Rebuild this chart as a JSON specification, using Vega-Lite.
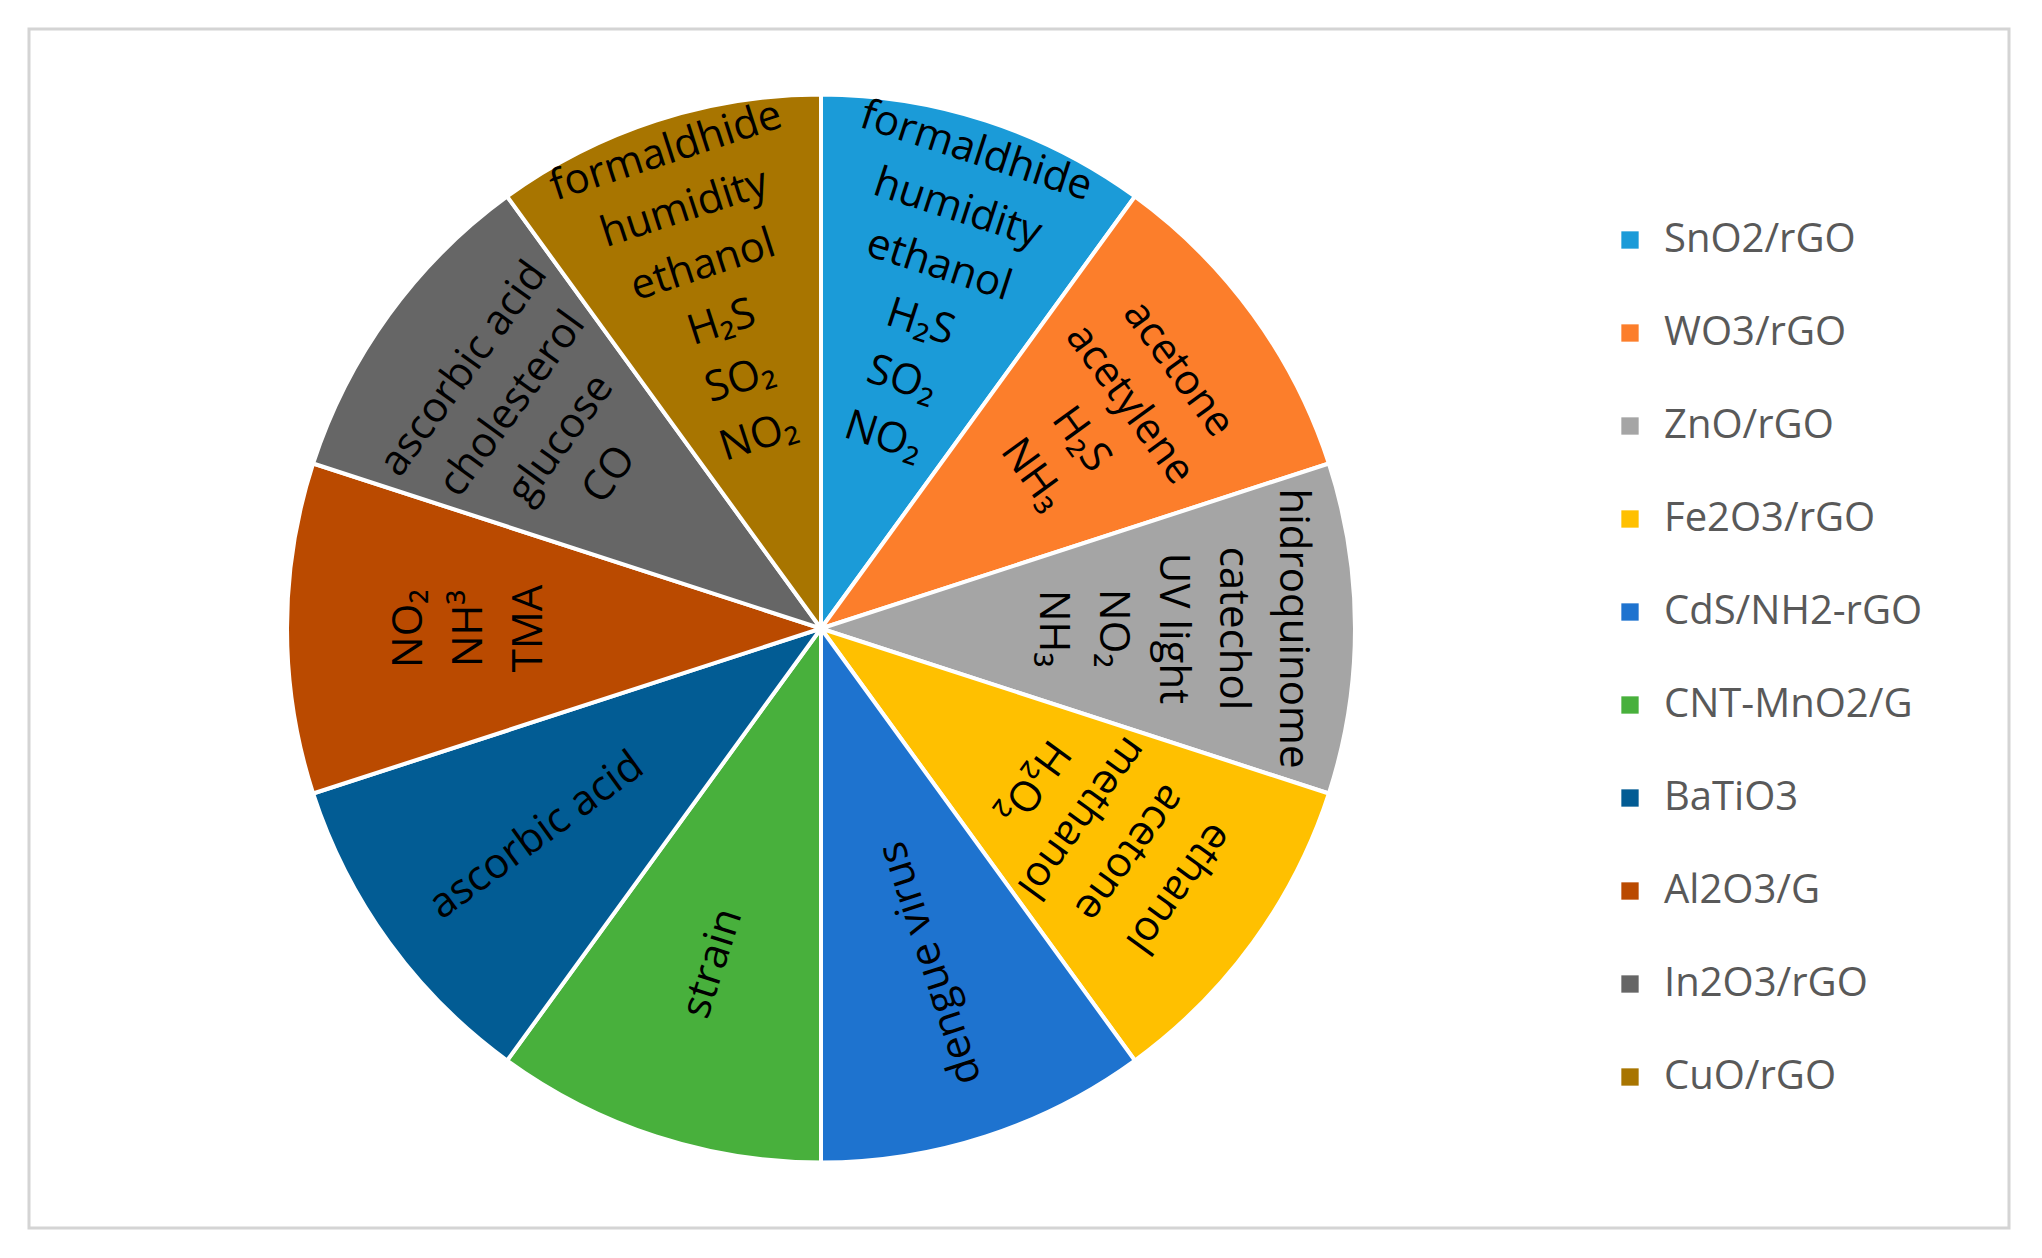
{
  "$schema": "https://vega.github.io/schema/vega-lite/v6.json",
  "width": 1980,
  "height": 1199,
  "autosize": {"type": "none"},
  "padding": {"left": 29, "top": 29, "right": 33, "bottom": 30},
  "background": "white",
  "view": {"stroke": "#d4d4d4", "strokeWidth": 3},
  "config": {
    "view": {"stroke": "#d4d4d4", "strokeWidth": 3},
    "legend": {
      "orient": "none",
      "legendX": 1581,
      "legendY": 191,
      "symbolType": "square",
      "symbolSize": 300,
      "symbolStrokeWidth": 0,
      "labelFontSize": 40,
      "labelFont": "Open Sans",
      "labelColor": "#595959",
      "rowPadding": 53,
      "labelOffset": 14,
      "labelLimit": 400
    }
  },
  "data": {
    "values": [
      {"material": "SnO2/rGO", "order": 1, "value": 1, "label": "formaldhide\nhumidity\nethanol\nH₂S\nSO₂\nNO₂"},
      {"material": "WO3/rGO", "order": 2, "value": 1, "label": "acetone\nacetylene\nH₂S\nNH₃"},
      {"material": "ZnO/rGO", "order": 3, "value": 1, "label": "hidroquinome\ncatechol\nUV light\nNO₂\nNH₃"},
      {"material": "Fe2O3/rGO", "order": 4, "value": 1, "label": "ethanol\nacetone\nmethanol\nH₂O₂"},
      {"material": "CdS/NH2-rGO", "order": 5, "value": 1, "label": "dengue virus"},
      {"material": "CNT-MnO2/G", "order": 6, "value": 1, "label": "strain"},
      {"material": "BaTiO3", "order": 7, "value": 1, "label": "ascorbic acid"},
      {"material": "Al2O3/G", "order": 8, "value": 1, "label": "NO₂\nNH³\nTMA"},
      {"material": "In2O3/rGO", "order": 9, "value": 1, "label": "ascorbic acid\ncholesterol\nglucose\nCO"},
      {"material": "CuO/rGO", "order": 10, "value": 1, "label": "formaldhide\nhumidity\nethanol\nH₂S\nSO₂\nNO₂"}
    ]
  },
  "transform": [
    {"window": [{"op": "sum", "field": "value", "as": "t1"}], "sort": [{"field": "order"}], "frame": [null, 0]},
    {"calculate": "datum.t1 - datum.value", "as": "t0"},
    {"calculate": "(datum.t0 + datum.t1) / 2", "as": "mid"},
    {"joinaggregate": [{"op": "sum", "field": "value", "as": "total"}]},
    {"calculate": "datum.mid / datum.total * 360 + (indexof(datum.label, '\\n') < 0 ? 90 : 0)", "as": "labelAngle"}
  ],
  "layer": [
    {
      "mark": {
        "type": "arc",
        "outerRadius": 534,
        "stroke": "white",
        "strokeWidth": 4,
        "x": {"expr": "width * 0.4"},
        "y": {"expr": "height / 2"}
      },
      "encoding": {
        "theta": {"field": "t0", "type": "quantitative", "scale": {"domain": [0, 10]}},
        "theta2": {"field": "t1"},
        "color": {
          "field": "material",
          "type": "nominal",
          "title": null,
          "scale": {
            "domain": ["SnO2/rGO", "WO3/rGO", "ZnO/rGO", "Fe2O3/rGO", "CdS/NH2-rGO", "CNT-MnO2/G", "BaTiO3", "Al2O3/G", "In2O3/rGO", "CuO/rGO"],
            "range": ["#1B9BD8", "#FC7E2B", "#A5A5A5", "#FFC000", "#1E73CF", "#48B03C", "#025C94", "#BA4A00", "#666666", "#A87500"]
          }
        }
      }
    },
    {
      "mark": {
        "type": "text",
        "radius": 352,
        "font": "Open Sans",
        "fontSize": 42,
        "lineHeight": 60,
        "lineBreak": "\n",
        "align": "center",
        "baseline": "middle",
        "color": "black",
        "dy": {"expr": "-(length(split(datum.label, '\\n')) - 1) * 30"},
        "x": {"expr": "width * 0.4"},
        "y": {"expr": "height / 2"}
      },
      "encoding": {
        "theta": {"field": "mid", "type": "quantitative", "scale": {"domain": [0, 10]}},
        "text": {"field": "label"},
        "angle": {"field": "labelAngle", "type": "quantitative", "scale": null}
      }
    }
  ]
}
